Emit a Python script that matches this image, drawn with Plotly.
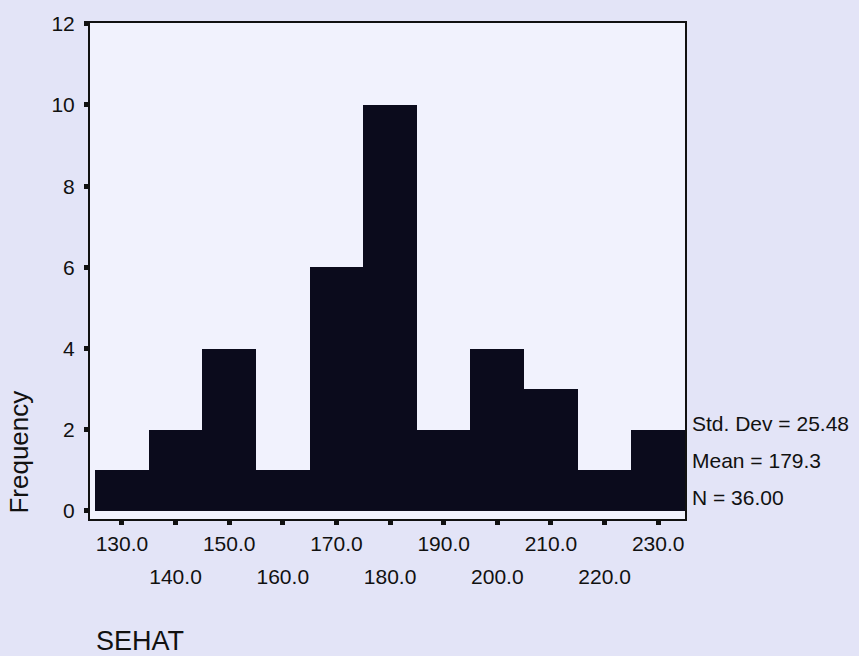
import plotly.graph_objects as go

# Histogram of SEHAT (bin width 10)
bin_centers = [130, 140, 150, 160, 170, 180, 190, 200, 210, 220, 230]
frequencies = [1, 2, 4, 1, 6, 10, 2, 4, 3, 1, 2]
row1_ticks = [130, 150, 170, 190, 210, 230]
row2_ticks = [140, 160, 180, 200, 220]
y_ticks = [0, 2, 4, 6, 8, 10, 12]
stats_lines = ["Std. Dev = 25.48", "Mean = 179.3", "N = 36.00"]

FONT = "Liberation Sans, Arial, sans-serif"
x_range = [124.05, 235.0]
y_range = [-0.2, 12.02]

fig = go.Figure()
fig.add_trace(go.Bar(
    x=bin_centers, y=frequencies, width=10,
    marker=dict(color="#0b0b1c", line=dict(width=0)),
    showlegend=False, hoverinfo="x+y",
))
# invisible trace to activate second x axis (second row of tick labels)
fig.add_trace(go.Scatter(x=[bin_centers[0]], y=[0], xaxis="x2", mode="markers",
                         marker=dict(opacity=0), showlegend=False, hoverinfo="skip"))

all_ticks = sorted(row1_ticks + row2_ticks)
fig.update_layout(
    width=859, height=656,
    margin=dict(l=90, r=174, t=19, b=137),
    paper_bgcolor="#e3e4f7",
    plot_bgcolor="#f1f2fd",
    bargap=0,
    font=dict(family=FONT, color="#111111", size=20),
    xaxis=dict(
        range=x_range, showgrid=False, zeroline=False,
        showline=True, linecolor="#111111", linewidth=2, mirror=True,
        tickmode="array", tickvals=all_ticks,
        ticktext=[f"{v:.1f}" if v in row1_ticks else "" for v in all_ticks],
        ticks="outside", ticklen=4, tickwidth=5, tickcolor="#111111",
        tickfont=dict(size=21, family=FONT), ticklabelstandoff=1,
    ),
    xaxis2=dict(
        range=x_range, overlaying="x", side="bottom", showgrid=False,
        zeroline=False, showline=False, tickmode="array", tickvals=row2_ticks,
        ticktext=[f"{v:.1f}" for v in row2_ticks], ticks="",
        tickfont=dict(size=21, family=FONT), ticklabelstandoff=43,
    ),
    yaxis=dict(
        range=y_range, showgrid=False, zeroline=False,
        showline=True, linecolor="#111111", linewidth=2, mirror=True,
        tickmode="array", tickvals=y_ticks, ticktext=[str(v) for v in y_ticks],
        ticks="outside", ticklen=4, tickwidth=5, tickcolor="#111111",
        tickfont=dict(size=21, family=FONT), ticklabelstandoff=5,
    ),
)

ann = []
for text, ypos in zip(stats_lines, [0.192, 0.118, 0.044]):
    ann.append(dict(text=text, x=1.008, y=ypos, xref="paper", yref="paper",
                    xanchor="left", yanchor="middle", showarrow=False,
                    font=dict(size=21, family=FONT, color="#111111")))
ann.append(dict(text="Frequency", x=-0.1193, y=0.134, xref="paper", yref="paper",
                xanchor="center", yanchor="middle", textangle=-90, showarrow=False,
                font=dict(size=26, family=FONT, color="#111111")))
ann.append(dict(text="SEHAT", x=0.084, y=-0.246, xref="paper", yref="paper",
                xanchor="center", yanchor="middle", showarrow=False,
                font=dict(size=27, family=FONT, color="#111111")))
fig.update_layout(annotations=ann)

fig.write_html("out.html")
